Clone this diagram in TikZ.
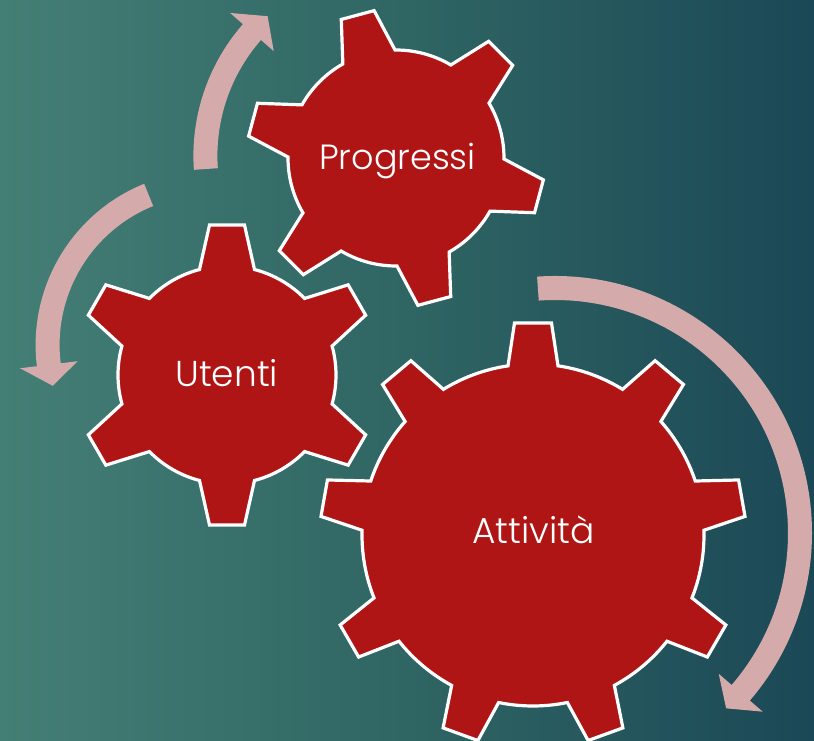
\documentclass[tikz,border=0pt]{standalone}
\usepackage{fontspec}
\setmainfont{Poppins Light}
\usetikzlibrary{calc}
\definecolor{bgL}{HTML}{447F76}
\definecolor{bgM}{HTML}{2F6563}
\definecolor{bgR}{HTML}{1B4856}
\definecolor{gearred}{HTML}{B01515}
\definecolor{arrowpink}{HTML}{D4AAAA}
\tikzset{
  gearshape/.style={fill=gearred, draw=white, line width=3.2pt, line join=miter},
  arrowband/.style={fill=arrowpink},
  gearlabel/.style={text=white, font=\fontsize{36}{40}\selectfont, inner sep=0pt, anchor=base},
}
% #1 centre, #2 teeth, #3 first tooth angle, #4 root radius, #5 tip radius, #6 base half width, #7 tip half width
\newcommand\drawgear[7]{%
  \pgfmathsetmacro\gDb{asin(#6/#4)}%
  \pgfmathsetmacro\gDo{atan(#7/#5)}%
  \pgfmathsetmacro\gRo{veclen(#5,#7)}%
  \pgfmathsetmacro\gStep{360/#2}%
  \draw[gearshape] ($(#1)+(#3-\gDb:#4)$)
    \foreach \k [evaluate=\k as \gA using {#3+(\k-1)*\gStep},
                 evaluate=\k as \gN using {#3+\k*\gStep}] in {1,...,#2} {
      -- ($(#1)+(\gA-\gDo:\gRo)$) -- ($(#1)+(\gA+\gDo:\gRo)$) -- ($(#1)+(\gA+\gDb:#4)$)
      arc[start angle=\gA+\gDb, end angle=\gN-\gDb, radius=#4]
    } -- cycle;
}
% #1 centre, #2 mid radius, #3 start angle, #4 head base angle, #5 tip angle
\newcommand\circarrow[5]{%
  \pgfmathsetmacro\aRo{#2+12}\pgfmathsetmacro\aRi{#2-12}%
  \pgfmathsetmacro\aBo{#2+29}\pgfmathsetmacro\aBi{#2-29}%
  \fill[arrowband] ($(#1)+(#3:\aRo)$) arc[start angle=#3, end angle=#4, radius=\aRo]
    -- ($(#1)+(#4:\aBo)$) -- ($(#1)+(#5:#2)$) -- ($(#1)+(#4:\aBi)$)
    -- ($(#1)+(#4:\aRi)$) arc[start angle=#4, end angle=#3, radius=\aRi] -- cycle;
}
\begin{document}
\begin{tikzpicture}[x=1pt,y=1pt]
  \useasboundingbox (0,0) rectangle (814,740);
  \shade[left color=bgL, right color=bgR, middle color=bgM] (0,0) rectangle (814,740);
  % centres
  \coordinate (cA) at (533,205);
  \coordinate (cU) at (227,365);
  \coordinate (cP) at (396,582);
  \coordinate (aA) at (555,207);
  \coordinate (aU) at (209.6,395);
  \coordinate (aP) at (393.4,584.1);
  % circular arrows
  \circarrow{aA}{245}{94}{-40.7}{-45.7}
  \circarrow{aU}{162}{112.1}{187}{194.6}
  \circarrow{aP}{188}{184}{138.8}{132}
  % gears
  \drawgear{cA}{9}{90}{171}{212}{25}{18.5}
  \drawgear{cU}{6}{90}{109}{150}{27.5}{17.5}
  \drawgear{cP}{6}{105}{108}{148}{27}{17}
  % labels
  \node[gearlabel] (tA) at (533.5,197) {Attività};
  \node[gearlabel] (tU) at (226.7,353.3) {Utenti};
  \node[gearlabel, font=\fontsize{35}{40}\selectfont] (tP) at (397.5,570) {Progressi};
\end{tikzpicture}
\end{document}
